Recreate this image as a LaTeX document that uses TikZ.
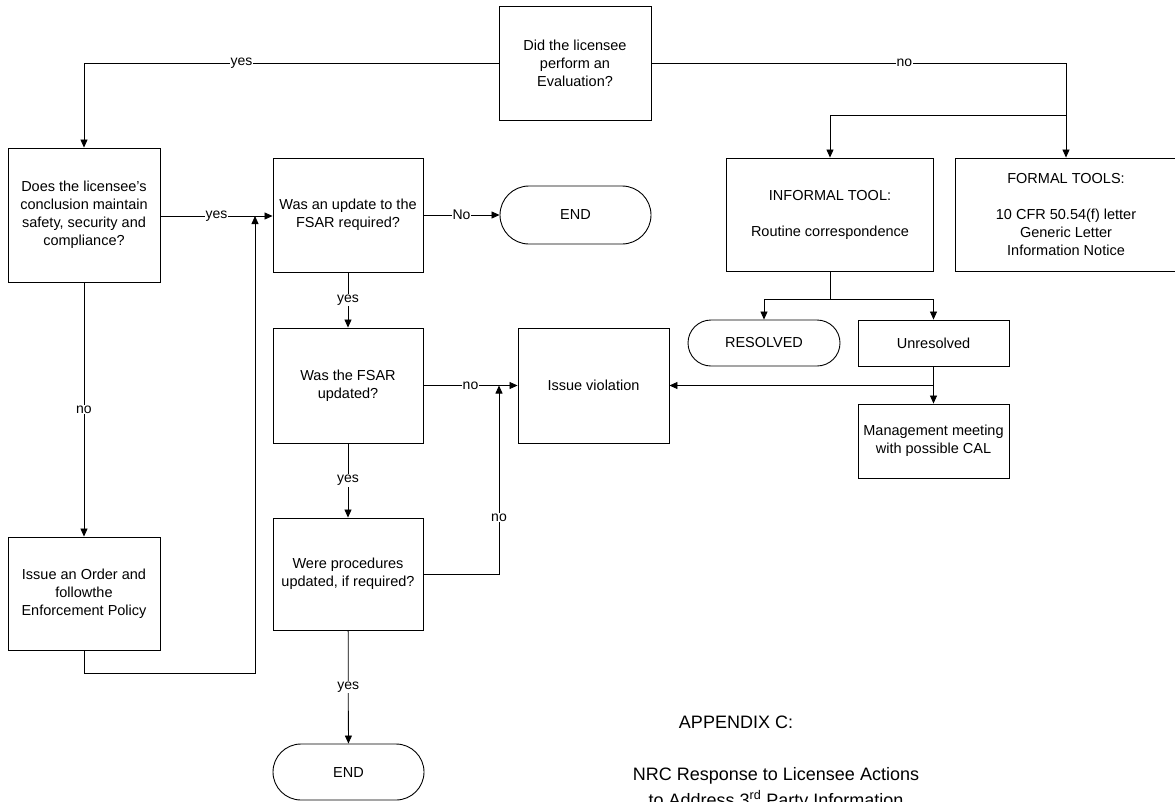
\documentclass[tikz,border=0pt]{standalone}
\usepackage{fontspec}
\setmainfont{Liberation Sans}
\usetikzlibrary{arrows.meta}

\begin{document}
\begin{tikzpicture}[x=1pt, y=-1pt,
  box/.style = {draw, line width = 0.9pt, align = center, inner sep = 2pt, font = \fontsize{14.5}{18}\selectfont},
  term/.style = {box, rounded corners = #1},
  lbl/.style = {fill = white, inner sep = 1pt, font = \fontsize{14}{16}\selectfont},
  arr/.style = {line width = 0.8pt, -{Triangle[length = 8pt, width = 7pt]}},
  ln/.style = {line width = 0.8pt},
  ttl/.style = {anchor = base, font = \fontsize{18}{22}\selectfont}]
\fill[white] (0,0) rectangle (1175,801);
\useasboundingbox (0,0) rectangle (1175,801);
\node[box, minimum width = 152pt, minimum height = 114pt](N0) at (575,63){Did the licensee\\perform an\\Evaluation?};
\node[box, minimum width = 152pt, minimum height = 134pt](N1) at (84,215){Does the licensee's\\conclusion maintain\\safety, security and\\compliance?};
\node[box, minimum width = 152pt, minimum height = 113pt](N2) at (84,593.5){Issue an Order and\\followthe\\Enforcement Policy};
\node[box, minimum width = 150pt, minimum height = 114pt](N3) at (348,215){Was an update to the\\FSAR required?};
\node[term = 29pt, minimum width = 151pt, minimum height = 58pt](N4) at (575.5,215){END};
\node[box, minimum width = 150pt, minimum height = 115pt](N5) at (348,385.5){Was the FSAR\\updated?};
\node[box, minimum width = 151pt, minimum height = 115pt](N6) at (593.5,385.5){Issue violation};
\node[box, minimum width = 150pt, minimum height = 112pt](N7) at (348,574){Were procedures\\updated, if required?};
\node[term = 28pt, minimum width = 151pt, minimum height = 56pt](N8) at (348.5,772){END};
\node[box, minimum width = 207pt, minimum height = 113pt](N9) at (830,214.5){INFORMAL TOOL:\\[18pt]Routine correspondence};
\node[box, minimum width = 222pt, minimum height = 113pt](N10) at (1066,214.5){FORMAL TOOLS:\\[18pt]10 CFR 50.54(f) letter\\Generic Letter\\Information Notice};
\node[term = 23pt, minimum width = 152pt, minimum height = 46pt](N11) at (764,343){RESOLVED};
\node[box, minimum width = 151pt, minimum height = 46pt](N12) at (933.5,343){Unresolved};
\node[box, minimum width = 151pt, minimum height = 74pt](N13) at (933.5,441){Management meeting\\with possible CAL};
\coordinate (C0) at (1066,115);
\coordinate (C1) at (830,299);
\coordinate (C2) at (933.5,385.5);
\coordinate (C3) at (255,673);
\coordinate (C4) at (255,216);
\coordinate (C5) at (499,385.5);
\draw[arr] (N0.west) -| node[lbl, pos = 0.31]{yes} (N1.north);
\draw[arr] (N0.east) -| node[lbl, pos = 0.305]{no} (N10.north);
\draw[arr] (C0) -| (N9.north);
\draw[arr] (N1.east |- C4) -- node[lbl]{yes} (N3.west |- C4);
\draw[arr] (N1) -- node[lbl]{no} (N2);
\draw[arr] (N2.south) |- (C3) -- (C4);
\draw[arr] (N3) -- node[lbl]{No} (N4);
\draw[arr] (N3) -- node[lbl]{yes} (N5);
\draw[arr] (N5) -- node[lbl]{no} (N6);
\draw[arr] (N5) -- node[lbl]{yes} (N7);
\draw[arr] (N7.east) -| node[lbl, pos = 0.65]{no} (C5);
\draw[arr] (N7) -- node[lbl]{yes} (N8);
\draw[ln] (N9.south) -- (C1);
\draw[arr] (C1) -| (N11.north);
\draw[arr] (C1) -| (N12.north);
\draw[arr] (N12) -- (N13);
\draw[arr] (C2) -- (N6.east);
\node[ttl](T0) at (736,728){APPENDIX C:};
\node[ttl](T1) at (776,780){NRC Response to Licensee Actions};
\node[ttl](T2) at (776,806){to Address 3\textsuperscript{rd} Party Information};
\end{tikzpicture}
\end{document}
